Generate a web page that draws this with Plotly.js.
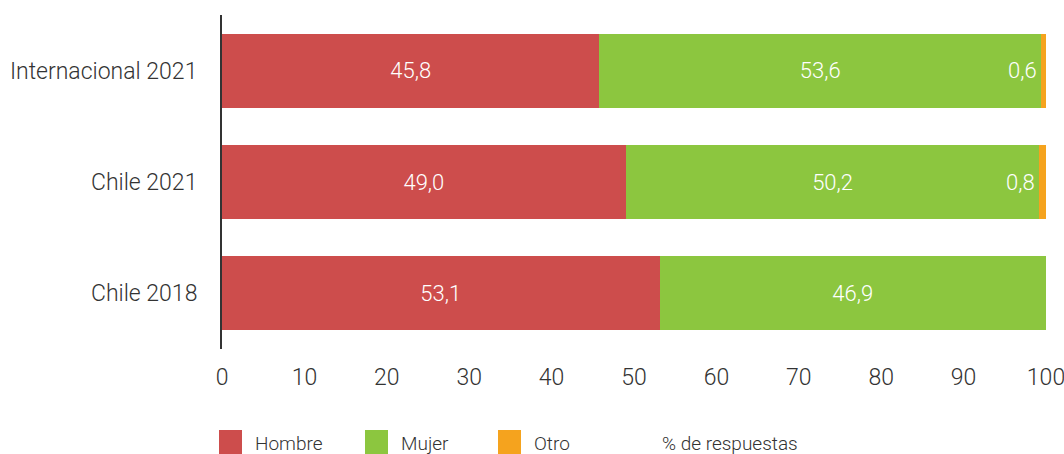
<!DOCTYPE html>
<html><head><meta charset="utf-8">
<script src="https://cdn.plot.ly/plotly-3.0.1.min.js"></script>
<style>html,body{margin:0;padding:0;background:#fff}</style>
</head><body><div id="chart" style="width:1064px;height:454px"></div>
<script>
const categories = ["Internacional 2021", "Chile 2021", "Chile 2018"];
const seriesNames = ["Hombre", "Mujer", "Otro"];
const hombre = [45.8, 49.0, 53.1];
const mujer = [53.6, 50.2, 46.9];
const otro = [0.6, 0.8, 0];
const colors = ["#CD4D4C", "#8CC63F", "#F5A31E"];
const tickVals = [0, 10, 20, 30, 40, 50, 60, 70, 80, 90, 100];
const axisLabel = "% de respuestas";

const FONT = "Roboto, 'Liberation Sans Narrow', sans-serif";
const W = 300;
const fmt = v => v.toFixed(1).replace(".", ",");

const traces = [hombre, mujer].map((vals, i) => ({
  type: "bar", orientation: "h", name: seriesNames[i],
  y: categories, x: vals, marker: {color: colors[i]},
  text: vals.map(fmt), textposition: "inside", insidetextanchor: "middle",
  textfont: {color: "#ffffff", size: 22, family: FONT, weight: W},
  hoverinfo: "none"
}));
traces.push({
  type: "bar", orientation: "h", name: seriesNames[2],
  y: categories, x: otro, marker: {color: colors[2]},
  textposition: "none", hoverinfo: "none"
});

// Otro labels: right-aligned just inside the green bar end
const annotations = categories.map((c, i) => otro[i] > 0 ? {
  x: hombre[i] + mujer[i], y: c, xref: "x", yref: "y",
  text: fmt(otro[i]), showarrow: false, xanchor: "right", xshift: -2,
  font: {color: "#ffffff", size: 22, family: FONT, weight: W}
} : null).filter(a => a);

// custom legend
const plotL = 222, plotR = 1046, plotT = 15, plotB = 349;
const px2x = px => (px - plotL) / (plotR - plotL);
const py2y = py => (plotB - py) / (plotB - plotT);
const legendX = [219, 365, 498];
const shapes = [];
seriesNames.forEach((n, i) => {
  shapes.push({type: "rect", xref: "paper", yref: "paper",
    x0: px2x(legendX[i]), x1: px2x(legendX[i] + 23),
    y0: py2y(430), y1: py2y(454), fillcolor: colors[i], line: {width: 0}});
  annotations.push({xref: "paper", yref: "paper", x: px2x(legendX[i] + 34), y: py2y(443),
    xanchor: "left", yanchor: "middle", showarrow: false, text: n,
    font: {size: 19, color: "#333333", family: FONT, weight: W}});
});
annotations.push({xref: "paper", yref: "paper", x: px2x(660), y: py2y(443),
  xanchor: "left", yanchor: "middle", showarrow: false, text: axisLabel,
  font: {size: 19, color: "#333333", family: FONT, weight: W}});

const layout = {
  width: 1064, height: 454, barmode: "stack", bargap: 0.333,
  margin: {l: plotL, r: 1064 - plotR, t: plotT, b: 454 - plotB, pad: 0},
  paper_bgcolor: "#ffffff", plot_bgcolor: "#ffffff",
  showlegend: false,
  font: {family: FONT, color: "#333333"},
  xaxis: {range: [0, 100], tickvals: tickVals, ticktext: tickVals.map(String),
    showgrid: false, zeroline: false, showline: false, ticks: "",
    ticklabeloverflow: "allow",
    tickfont: {size: 23, color: "#333333", family: FONT, weight: W}, ticklabelstandoff: 12,
    fixedrange: true},
  yaxis: {autorange: "reversed", showgrid: false, zeroline: false,
    showline: true, linecolor: "#333333", linewidth: 2, ticks: "",
    tickfont: {size: 23, color: "#333333", family: FONT, weight: W}, ticklabelstandoff: 18,
    fixedrange: true},
  shapes: shapes, annotations: annotations
};
Plotly.newPlot("chart", traces, layout, {displayModeBar: false, staticPlot: true});
</script></body></html>
